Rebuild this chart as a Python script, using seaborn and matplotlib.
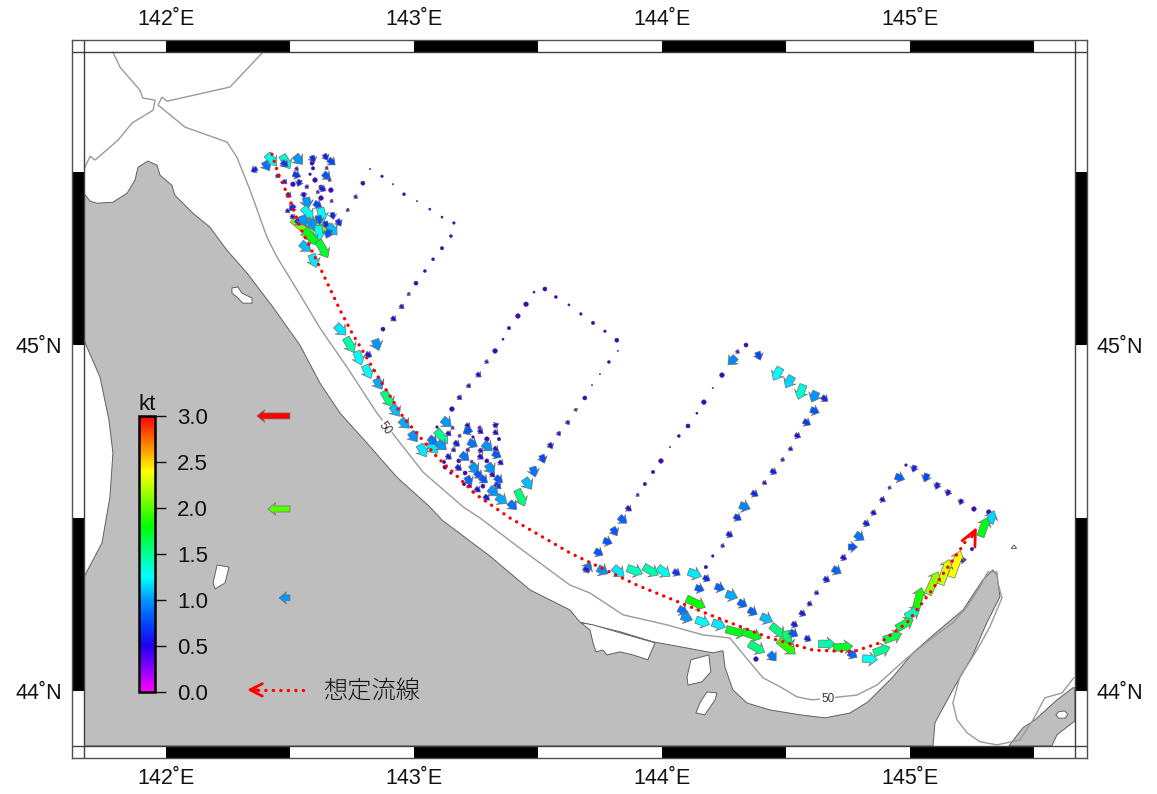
import numpy as np
import pandas as pd
import matplotlib
matplotlib.use("Agg")
import matplotlib.pyplot as plt
from matplotlib.colors import LinearSegmentedColormap, Normalize
from matplotlib.cm import ScalarMappable
from matplotlib.patches import Rectangle
import seaborn as sns

# ---------- map extent ----------
lon_outer = (141.621, 145.714)
lat_outer = (43.806, 45.882)
lon_inner = (141.669, 145.665)
lat_inner = (43.841, 45.847)
lon_ticks = [142, 143, 144, 145]
lat_ticks = [44, 45]
lon_ticklabels = ["142˚E", "143˚E", "144˚E", "145˚E"]
lat_ticklabels = ["44˚N", "45˚N"]
speed_ticks = [0.0, 0.5, 1.0, 1.5, 2.0, 2.5, 3.0]

# ---------- land ----------
land_lon = [141.669,141.694,141.722,141.786,141.843,141.875,141.887,141.927,141.964,141.976,142.024,142.036,142.109,142.177,142.246,142.327,142.431,142.540,142.621,142.702,142.810,142.931,143.064,143.113,143.306,143.468,143.629,143.669,143.831,143.964,144.101,144.205,144.246,144.254,144.286,144.343,144.435,144.556,144.657,144.758,144.830,144.931,145.012,145.109,145.214,145.294,145.334,145.351,145.363,145.310,145.250,145.173,145.101,145.093,141.669,141.669,141.706,141.742,141.774,141.786,141.770,141.734,141.669]
land_lat = [45.439,45.416,45.410,45.413,45.439,45.477,45.514,45.532,45.520,45.491,45.462,45.433,45.381,45.341,45.274,45.208,45.110,45.000,44.890,44.803,44.717,44.618,44.532,44.494,44.390,44.292,44.234,44.199,44.171,44.142,44.124,44.110,44.116,44.069,44.003,43.965,43.945,43.931,43.922,43.936,43.968,44.040,44.110,44.171,44.234,44.321,44.350,44.335,44.272,44.197,44.098,44.003,43.908,43.841,43.841,44.329,44.379,44.428,44.561,44.688,44.783,44.907,45.014]
east_lon = [145.399,145.455,145.504,145.593,145.657,145.665,145.665,145.593,145.572]
east_lat = [43.841,43.893,43.916,43.974,44.009,44.009,43.913,43.873,43.841]
saroma_lon = [143.673,143.710,143.722,143.734,143.762,143.778,143.831,143.883,143.943,143.972,143.831,143.722]
saroma_lat = [44.197,44.176,44.139,44.113,44.118,44.104,44.113,44.104,44.090,44.139,44.168,44.191]
notoro_lon = [144.117,144.189,144.197,144.161,144.105,144.101]
notoro_lat = [44.090,44.104,44.055,44.026,44.017,44.040]
lower_lon = [144.181,144.222,144.214,144.173,144.137,144.153]
lower_lat = [43.997,43.994,43.974,43.931,43.936,43.965]
pond1_lon = [142.266,142.290,142.306,142.347,142.347,142.310,142.286,142.266]
pond1_lat = [45.165,45.168,45.150,45.136,45.121,45.121,45.139,45.150]
pond2_lon = [142.206,142.254,142.238,142.198,142.190]
pond2_lat = [44.364,44.358,44.312,44.295,44.312]
lake_lon = [145.589,145.600,145.625,145.637,145.625,145.600]
lake_lat = [43.931,43.940,43.942,43.931,43.921,43.921]
islet_lon = [145.408,145.420,145.430]
islet_lat = [44.412,44.422,44.412]

# ---------- 50 m isobath ----------
iso1_lon = [141.786,141.815,141.895,141.907,141.956,141.948,141.863,141.806,141.714,141.694,141.673]
iso1_lat = [45.847,45.803,45.737,45.714,45.708,45.679,45.642,45.592,45.535,45.546,45.514]
iso2_lon = [142.391,142.258,142.004,141.984,141.968,142.077,142.246,142.286,142.339,142.407,142.448,142.573,142.621,142.730,142.851,142.944,143.036,143.198,143.266,143.447,143.629,143.710,143.843,144.020,144.165,144.274,144.314,144.407,144.476,144.544,144.605,144.786,144.867,144.988,145.089,145.173,145.230,145.282,145.314,145.351,145.355,145.371,145.322,145.270,145.201,145.173,145.190,145.230,145.282,145.351,145.443,145.496,145.544,145.613,145.661]
iso2_lat = [45.847,45.746,45.705,45.717,45.694,45.630,45.587,45.543,45.448,45.312,45.254,45.107,45.049,44.936,44.803,44.717,44.633,44.532,44.500,44.402,44.306,44.283,44.220,44.191,44.162,44.153,44.118,44.038,44.012,43.983,43.974,43.988,44.017,44.095,44.153,44.197,44.243,44.301,44.344,44.344,44.312,44.269,44.185,44.118,44.040,43.965,43.916,43.879,43.853,43.844,43.858,43.916,43.980,43.994,44.038]

# ---------- assumed streamline ----------
stream_lon = [142.427,142.452,142.500,142.540,142.593,142.649,142.702,142.750,142.863,142.956,143.093,143.254,143.387,143.629,143.899,144.193,144.435,144.609,144.770,144.879,144.988,145.080,145.201,145.250]
stream_lat = [45.552,45.497,45.419,45.341,45.266,45.182,45.101,45.035,44.899,44.792,44.676,44.566,44.500,44.399,44.306,44.220,44.153,44.118,44.113,44.139,44.197,44.283,44.407,44.460]

# ---------- current vectors ----------
a_lon = [142.548,142.589,142.617,142.355,142.407,142.427,142.484,142.536,142.593,142.645,142.669,142.480,142.589,142.649,142.593,142.528,142.581,142.452,142.528,142.649,142.661,142.601,142.536,142.480,142.512,142.569,142.633,142.625,142.665,142.613,142.496,142.556,142.625,142.669,142.569,142.613,142.508,142.492,142.573,142.629,142.673,142.512,142.698,142.536,142.556,142.617,142.589,142.645,142.617,142.673,142.653,142.585,142.633,142.564,142.597]
a_lat = [45.341,45.338,45.347,45.506,45.517,45.535,45.529,45.535,45.537,45.543,45.529,45.523,45.526,45.511,45.511,45.509,45.494,45.488,45.491,45.488,45.477,45.477,45.468,45.471,45.465,45.457,45.451,45.457,45.448,45.442,45.433,45.433,45.425,45.416,45.410,45.405,45.396,45.387,45.381,45.376,45.373,45.370,45.353,45.355,45.358,45.361,45.347,45.347,45.324,45.332,45.321,45.312,45.277,45.283,45.243]
a_spd = [2.1,2.1,2.1,.6,.9,1.3,1.35,1.0,.65,.6,.75,.7,.2,.3,.15,.35,.1,.4,.7,.8,.3,.25,.6,.45,.25,.35,.6,.2,.25,.3,.5,.5,.25,.3,1.0,.75,.65,.4,1.3,1.25,.6,.45,.65,.7,1.0,.8,1.0,.65,1.3,1.1,.8,1.75,1.7,1.1,1.2]
a_hdg = [130,40,125,240,150,140,150,140,160,150,130,130,130,130,130,130,130,130,110,130,130,130,200,130,130,130,120,130,130,130,130,170,130,130,170,120,220,130,140,165,170,130,150,130,160,170,160,170,175,140,200,140,150,130,160]

b_lon = [143.008,143.044,143.077,143.113,143.149,143.161,143.113,143.064,143.012,142.960,142.915,142.871,142.823,142.794,142.766,142.734,142.980,142.952,142.919,142.875,142.851,142.818]
b_lat = [45.179,45.214,45.248,45.280,45.315,45.353,45.370,45.393,45.416,45.436,45.465,45.488,45.509,45.468,45.428,45.390,45.147,45.110,45.075,45.046,45.000,44.971]
b_spd = [.2,.12,.12,.15,.12,.1,.08,.08,.05,.12,.05,.1,.05,.2,.35,.3,.3,.45,.5,.2,1.0,.6]
b_hdg = [130,130,130,130,130,130,130,130,130,130,130,130,130,130,130,130,130,130,130,130,160,120]

c_lon = [142.706,142.742,142.778,142.814,142.859,142.895,142.927,142.964,143.000,143.036,143.077,143.077,143.113,143.113]
c_lat = [45.043,45.000,44.962,44.922,44.887,44.844,44.809,44.772,44.734,44.694,44.702,44.723,44.734,44.708]
c_spd = [1.2,1.45,1.25,1.25,1.05,1.55,1.1,1.05,1.0,1.2,1.2,.9,1.5,1.0]
c_hdg = [135,150,160,155,150,150,145,135,145,150,140,130,140,130]

d_lon = [143.133,143.157,143.093,143.218,143.266,143.331,143.141,143.214,143.270,143.331,143.185,143.238,143.294,143.343,143.173,143.238,143.298,143.331,143.161,143.218,143.270,143.335,143.141,143.206,143.270,143.181,143.234,143.294,143.351,143.121,143.125,143.181,143.246,143.310,143.149,143.206,143.262,143.318,143.222,143.282,143.343,143.226,143.278,143.339,143.202,143.258,143.322,143.294,143.238,143.355,143.399,143.431,143.460,143.484,143.520,143.552,143.585,143.621,143.653]
d_lat = [44.775,44.760,44.763,44.766,44.760,44.769,44.743,44.751,44.749,44.746,44.737,44.734,44.728,44.728,44.714,44.714,44.705,44.699,44.696,44.696,44.694,44.682,44.676,44.676,44.676,44.665,44.662,44.665,44.659,44.662,44.647,44.644,44.642,44.642,44.630,44.630,44.624,44.624,44.607,44.610,44.610,44.592,44.592,44.592,44.598,44.581,44.575,44.558,44.575,44.552,44.535,44.558,44.598,44.633,44.670,44.708,44.743,44.775,44.812]
d_spd = [1.0,.3,.1,.5,.35,.5,.5,.8,.5,.5,.3,.1,.25,.15,.6,.9,1.0,.5,.4,.35,.45,.8,.55,.9,.55,.2,.3,.2,.5,.15,.2,.6,1.0,1.0,.1,.2,.8,.5,.85,.8,.8,.4,.2,.7,.15,.55,1.0,.6,.1,1.05,.9,1.55,1.1,.9,.75,.55,.4,.4,.3]
d_hdg = [130,130,130,130,130,60,130,240,130,130,130,130,130,130,130,120,130,130,130,130,130,120,130,130,130,130,130,130,130,130,130,130,140,145,130,130,130,130,150,130,130,130,130,130,130,130,130,130,130,125,135,155,145,165,160,150,150,150,150]

e_lon = [143.689,143.718,143.750,143.786,143.822,143.818,143.770,143.722,143.673,143.625,143.572,143.528,143.484,143.452,143.419,143.383,143.359,143.327,143.294,143.262,143.222,143.185,143.153]
e_lat = [44.847,44.884,44.916,44.951,44.983,45.014,45.040,45.064,45.090,45.116,45.139,45.162,45.153,45.118,45.084,45.049,45.017,44.983,44.951,44.913,44.881,44.847,44.815]
e_spd = [.2,.05,.05,.12,.05,.2,.1,.15,.1,.08,.12,.2,.08,.25,.25,.15,.08,.25,.35,.5,.4,.45,.25]
e_hdg = [130,130,130,130,130,130,130,130,130,130,130,130,130,130,130,130,130,130,130,130,130,130,130]

f_lon = [144.032,144.068,144.105,144.141,144.169,144.205,144.242,144.282,144.306,144.339,144.391,144.464,144.512,144.560,144.613,144.657,144.617,144.585,144.548,144.520,144.488,144.451,144.415,144.375,144.335,144.306,144.274,144.246,144.205,144.177]
f_lat = [44.705,44.737,44.766,44.803,44.835,44.876,44.913,44.954,44.980,45.000,44.968,44.916,44.893,44.864,44.850,44.844,44.809,44.775,44.737,44.699,44.668,44.633,44.601,44.569,44.532,44.500,44.451,44.419,44.390,44.358]
f_spd = [.05,.12,.2,.08,.25,.05,.25,.95,.35,.2,.75,1.25,1.15,1.35,1.0,.65,.8,.7,.55,.4,.35,.6,.4,.65,.95,.7,.6,.35,.1,.15]
f_hdg = [130,130,130,130,130,130,130,225,130,130,160,210,210,200,205,130,110,120,120,120,120,120,120,120,110,120,120,120,120,120]

g_lon = [143.996,143.964,143.931,143.903,143.867,143.843,143.810,143.782,143.746,143.702,143.697,143.762,143.826,143.891,143.956,144.008,144.060,144.133,144.181,144.153,144.234,144.282,144.326,144.367,144.423,144.468,144.508,144.504,144.536,144.532,144.589,144.665,144.730,144.770,144.137,144.085,144.101,144.165,144.230,144.298,144.363,144.383,144.447,144.379]
g_lat = [44.665,44.633,44.598,44.566,44.526,44.494,44.460,44.431,44.399,44.358,44.350,44.347,44.344,44.347,44.347,44.344,44.341,44.338,44.324,44.295,44.298,44.275,44.251,44.228,44.208,44.173,44.147,44.127,44.191,44.165,44.150,44.136,44.127,44.104,44.254,44.231,44.211,44.199,44.191,44.171,44.162,44.124,44.098,44.092]
g_spd = [.25,.15,.15,.3,.55,.85,.8,.8,.8,.9,.6,1.0,1.2,1.4,1.45,1.3,.7,1.2,.65,.8,.85,1.05,.85,.85,1.1,1.55,1.6,1.9,.6,.8,.6,1.45,1.7,.85,1.8,.9,1.0,1.25,1.2,1.75,1.75,1.55,.9,.25]
g_hdg = [130,130,130,130,130,130,150,110,120,30,130,120,130,110,120,125,120,110,120,110,110,110,120,120,115,130,165,130,120,120,120,90,85,120,115,120,110,110,110,105,110,120,140,130]

h_lon = [144.568,144.597,144.625,144.665,144.706,144.734,144.770,144.798,144.826,144.855,144.891,144.919,144.960,144.984,145.016,145.064,145.109,145.153,145.205,145.258,145.318,145.330,145.298,145.250,145.214,145.185,145.141,145.093,145.036,145.012,144.980,144.931,144.887,144.839]
h_lat = [44.223,44.251,44.283,44.321,44.347,44.384,44.416,44.445,44.483,44.514,44.552,44.587,44.616,44.653,44.642,44.616,44.592,44.572,44.546,44.526,44.517,44.503,44.474,44.410,44.379,44.367,44.344,44.312,44.269,44.225,44.194,44.156,44.118,44.092]
h_spd = [.6,.45,.4,.6,.85,.55,.8,.9,.6,.5,.5,.3,.85,.1,.6,.75,.6,.55,.5,.25,.25,1.15,1.75,.15,.6,2.4,2.3,2.15,1.85,1.4,1.65,1.65,1.5,1.3]
h_hdg = [120,120,120,120,120,120,90,125,120,120,120,120,110,130,200,200,200,200,200,200,200,20,20,130,90,20,20,25,15,60,60,70,70,95]

scale_speed = [3.0, 2.0, 1.0]
scale_lon = [142.5, 142.5, 142.5]
scale_lat = [44.795, 44.526, 44.269]

cb_speed = [0.0, 0.25, 0.5, 0.75, 1.0, 1.25, 1.5, 1.8, 2.4, 3.0]
cb_color = ["#ff00ff", "#8a00ff", "#2000f0", "#0048ff", "#0096ff", "#00ffff",
            "#00ff96", "#00ff00", "#ffff00", "#ff0000"]

# ---------- frame ----------
W, H = 1157, 794
sns.set_theme(style="white")
plt.rcParams["font.family"] = ["Liberation Sans", "DejaVu Sans"]
fig = plt.figure(figsize=(W / 100, H / 100), dpi=100, facecolor="white")
ax = fig.add_axes([72 / W, 1 - 758 / H, (1087 - 72) / W, (758 - 40) / H])
ax.set_xlim(*lon_outer)
ax.set_ylim(*lat_outer)

cmap = LinearSegmentedColormap.from_list("speed", [(v / 3.0, c) for v, c in zip(cb_speed, cb_color)], N=256)
norm = Normalize(0, 3)

clip = Rectangle((lon_inner[0], lat_inner[0]), lon_inner[1] - lon_inner[0], lat_inner[1] - lat_inner[0],
                 transform=ax.transData)
EDGE = "#606060"
for xs, ys, fc in [(land_lon, land_lat, "#bebebe"), (east_lon, east_lat, "#bebebe"),
                   (saroma_lon, saroma_lat, "white"), (notoro_lon, notoro_lat, "white"),
                   (lower_lon, lower_lat, "white"), (pond1_lon, pond1_lat, "white"),
                   (pond2_lon, pond2_lat, "white"), (lake_lon, lake_lat, "white"),
                   (islet_lon, islet_lat, "white")]:
    for p in ax.fill(xs, ys, facecolor=fc, edgecolor=EDGE, linewidth=0.7, zorder=1):
        p.set_clip_path(clip)

iso = pd.concat([pd.DataFrame({"lon": iso1_lon, "lat": iso1_lat, "seg": 1}),
                 pd.DataFrame({"lon": iso2_lon, "lat": iso2_lat, "seg": 2})])
sns.lineplot(data=iso, x="lon", y="lat", units="seg", estimator=None, sort=False,
             color="#9a9a9a", linewidth=1.0, ax=ax, legend=False, zorder=2)

for lon, lat, rot in [(142.883, 44.760, -52), (144.669, 43.977, 0)]:
    ax.text(lon, lat, "50", fontsize=8.5, color="#333333", rotation=rot, ha="center", va="center",
            rotation_mode="anchor", zorder=3,
            bbox=dict(boxstyle="square,pad=0.08", fc="white", ec="none"))

# ---------- vectors ----------
vec = pd.DataFrame({
    "lon": a_lon + b_lon + c_lon + d_lon + e_lon + f_lon + g_lon + h_lon,
    "lat": a_lat + b_lat + c_lat + d_lat + e_lat + f_lat + g_lat + h_lat,
    "speed": a_spd + b_spd + c_spd + d_spd + e_spd + f_spd + g_spd + h_spd,
    "heading": a_hdg + b_hdg + c_hdg + d_hdg + e_hdg + f_hdg + g_hdg + h_hdg,
})
dots = vec[vec.speed < 0.3]
arrows = vec[vec.speed >= 0.3]
sns.scatterplot(data=dots, x="lon", y="lat", size="speed", sizes=(1.0, 14), size_norm=(0.05, 0.3),
                color="#3c10a8", edgecolor="#3c10a8", linewidth=0.3, ax=ax, legend=False, zorder=4)
rad = np.deg2rad(arrows.heading.to_numpy())
QUIV = dict(angles="uv", units="dots", scale_units="dots", minlength=0.1,
            cmap=cmap, norm=norm, edgecolor="#707070", linewidth=0.5, zorder=5)
ax.quiver(arrows.lon, arrows.lat, arrows.speed * np.sin(rad), arrows.speed * np.cos(rad), arrows.speed,
          pivot="mid", scale=1 / 11.5, width=7.5, headwidth=1.85, headlength=1.1, headaxislength=0.85,
          minshaft=1.4, **QUIV)
ax.quiver(scale_lon, scale_lat, -np.array(scale_speed), np.zeros(3), scale_speed, pivot="tail",
          scale=1 / 11.0, width=6.0, headwidth=2.1, headlength=1.3, headaxislength=1.05,
          minshaft=1.45, **QUIV)

# ---------- streamline and its key ----------
DOT = dict(color="#ff0000", linewidth=2.4, linestyle=(0, (0.05, 2.2)), dash_capstyle="round")
sns.lineplot(x=stream_lon, y=stream_lat, sort=False, estimator=None, ax=ax, legend=False, zorder=6, **DOT)
ax.annotate("", xy=(145.270, 44.474), xytext=(145.250, 44.445), zorder=7,
            arrowprops=dict(arrowstyle="->,head_length=0.7,head_width=0.32", color="#ff0000", lw=2.0,
                            mutation_scale=16, shrinkA=0, shrinkB=0))
ax.plot([142.552, 142.36], [44.003, 44.003], zorder=6, **DOT)
ax.annotate("", xy=(142.327, 44.003), xytext=(142.37, 44.003), zorder=7,
            arrowprops=dict(arrowstyle="->,head_length=0.55,head_width=0.28", color="#ff0000", lw=2.0,
                            mutation_scale=16, shrinkA=0, shrinkB=0))
ax.text(142.635, 43.998, "想定流線", family=["Noto Sans CJK JP", "DejaVu Sans"], fontsize=17.5,
        color="#111111", va="center", ha="left", fontweight="light", zorder=7)

# ---------- black and white border ----------
ax.set_xticks(lon_ticks, lon_ticklabels)
ax.set_yticks(lat_ticks, lat_ticklabels)
ax.tick_params(axis="both", length=0, labelsize=15.5, colors="#111111", pad=7)
ax.tick_params(axis="x", top=False, bottom=False, labeltop=True, labelbottom=True)
ax.tick_params(axis="y", left=False, right=False, labelleft=True, labelright=True)
ax.grid(False)
ax.set_xlabel("")
ax.set_ylabel("")
for lo in [142, 143, 144, 145]:
    for y0, y1 in [(lat_outer[0], lat_inner[0]), (lat_inner[1], lat_outer[1])]:
        ax.add_patch(Rectangle((lo, y0), 0.5, y1 - y0, fc="black", ec="none", zorder=8))
for la in [44, 45]:
    for x0, x1 in [(lon_outer[0], lon_inner[0]), (lon_inner[1], lon_outer[1])]:
        ax.add_patch(Rectangle((x0, la), x1 - x0, 0.5, fc="black", ec="none", zorder=8))
for x in lon_inner:
    ax.axvline(x, color="#404040", lw=1.0, zorder=9)
for y in lat_inner:
    ax.axhline(y, color="#404040", lw=1.0, zorder=9)
for s in ax.spines.values():
    s.set_visible(True)
    s.set_color("#505050")
    s.set_linewidth(1.0)
    s.set_zorder(10)

# ---------- colour bar ----------
cax = fig.add_axes([139 / W, 1 - 692 / H, 16 / W, 276 / H])
cb = fig.colorbar(ScalarMappable(norm=norm, cmap=cmap), cax=cax, ticks=speed_ticks)
cb.ax.set_yticklabels([f"{v:.1f}" for v in speed_ticks])
cb.ax.tick_params(axis="y", right=True, length=8, width=1, color="#111111", labelsize=16,
                  labelcolor="#111111", pad=8)
cb.outline.set_edgecolor("black")
cb.outline.set_linewidth(1.8)
cax.set_title("kt", fontsize=16, color="#111111", pad=4)

fig.savefig("out.png", dpi=100, facecolor="white")
